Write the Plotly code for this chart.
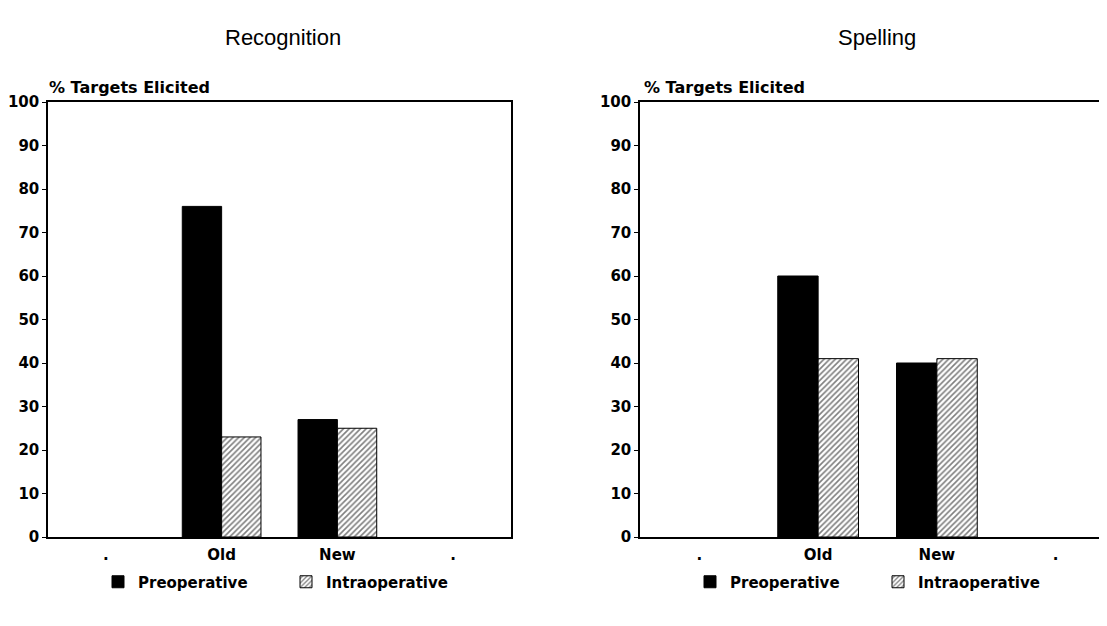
import plotly.graph_objects as go

# ---- data ----
tick_labels = [".", "Old", "New", "."]          # x-axis slots as printed
groups = ["Old", "New"]
recog_pre = [76, 27]
recog_intra = [23, 25]
spell_pre = [60, 40]
spell_intra = [41, 41]
y_ticks = [0, 10, 20, 30, 40, 50, 60, 70, 80, 90, 100]
panel_titles = ["Recognition", "Spelling"]
y_label = "% Targets Elicited"
series_names = ["Preoperative", "Intraoperative"]

W, H = 1107, 626
OFF = 8  # page body margin in the browser
FONT = "DejaVu Sans"
pos = [tick_labels.index(g) for g in groups]


def px(x):
    return (x - OFF) / W


def py(y):
    return (H - (y - OFF)) / H


fig = go.Figure()

panels = [
    (recog_pre, recog_intra, "x", "y", "legend"),
    (spell_pre, spell_intra, "x2", "y2", "legend2"),
]
for pre, intra, xa, ya, lg in panels:
    fig.add_trace(go.Bar(
        x=pos, y=pre, name=series_names[0], xaxis=xa, yaxis=ya, legend=lg,
        marker=dict(color="black", line=dict(color="black", width=1)),
    ))
    fig.add_trace(go.Bar(
        x=pos, y=intra, name=series_names[1], xaxis=xa, yaxis=ya, legend=lg,
        marker=dict(color="white", line=dict(color="black", width=1),
                    pattern=dict(shape="/", fgcolor="black", bgcolor="white",
                                 size=4, solidity=0.4)),
    ))

dom_y = [py(537), py(102)]
dom_left = [px(48), px(511)]
dom_right = [px(640), 1.0]

xcommon = dict(range=[-0.5, 3.5], tickmode="array",
               tickvals=list(range(len(tick_labels))), ticktext=tick_labels,
               showline=True, linecolor="black", linewidth=2, mirror=True,
               ticks="", showgrid=False, zeroline=False, automargin=False,
               ticklabelstandoff=3,
               tickfont=dict(family=FONT, size=15, color="black", weight="bold"))
ycommon = dict(range=[0, 100], tickmode="array", tickvals=y_ticks,
               showline=True, linecolor="black", linewidth=1.5, mirror=True,
               ticks="outside", ticklen=4, tickwidth=1, tickcolor="black",
               showgrid=False, zeroline=False, automargin=False,
               tickfont=dict(family=FONT, size=15, color="black", weight="bold"))

legend_common = dict(orientation="h", xanchor="left", y=py(582), yanchor="middle",
                     font=dict(family=FONT, size=15, color="black", weight="bold"),
                     entrywidth=143, bgcolor="rgba(0,0,0,0)")

fig.update_layout(
    width=W, height=H,
    margin=dict(l=0, r=0, t=0, b=0, autoexpand=False),
    plot_bgcolor="white", paper_bgcolor="white",
    barmode="group", bargap=0.32, bargroupgap=0,
    xaxis=dict(domain=dom_left, anchor="y", **xcommon),
    yaxis=dict(domain=dom_y, anchor="x", **ycommon),
    xaxis2=dict(domain=dom_right, anchor="y2", **xcommon),
    yaxis2=dict(domain=dom_y, anchor="x2", **ycommon),
    legend=dict(x=px(138 - 40), **legend_common),
    legend2=dict(x=px(730 - 40), **legend_common),
    showlegend=True,
)

# panel titles and y-axis labels
fig.add_annotation(text=panel_titles[0], x=px(283), y=py(38), xref="paper", yref="paper",
                   xanchor="center", yanchor="middle", showarrow=False,
                   font=dict(family="Liberation Sans", size=22, color="black"))
fig.add_annotation(text=panel_titles[1], x=px(877), y=py(38), xref="paper", yref="paper",
                   xanchor="center", yanchor="middle", showarrow=False,
                   font=dict(family="Liberation Sans", size=22, color="black"))
for xl in [47, 642]:
    fig.add_annotation(text=y_label, x=px(xl), y=py(87), xref="paper", yref="paper",
                       xanchor="left", yanchor="middle", showarrow=False,
                       font=dict(family=FONT, size=16, color="black", weight="bold"))

fig.write_html("out.html")
